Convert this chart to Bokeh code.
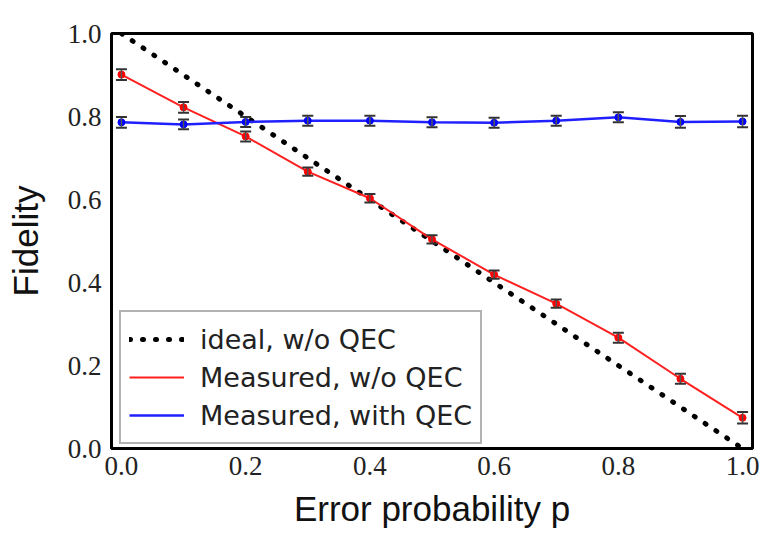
from bokeh.plotting import figure
from bokeh.models import (ColumnDataSource, Whisker, TeeHead, Legend, LegendItem,
                          FixedTicker, Range1d)
from bokeh.embed import file_html
from bokeh.resources import INLINE

# ---- data ----
p_err = [0.0, 0.1, 0.2, 0.3, 0.4, 0.5, 0.6, 0.7, 0.8, 0.9, 1.0]
fid_noqec = [0.901, 0.822, 0.752, 0.667, 0.603, 0.504, 0.419, 0.349, 0.267, 0.168, 0.074]
err_noqec = [0.013, 0.013, 0.012, 0.010, 0.010, 0.010, 0.010, 0.010, 0.012, 0.012, 0.014]
fid_qec = [0.786, 0.781, 0.787, 0.790, 0.790, 0.786, 0.785, 0.790, 0.798, 0.787, 0.788]
err_qec = [0.013, 0.012, 0.012, 0.012, 0.012, 0.012, 0.012, 0.012, 0.012, 0.014, 0.014]
ideal_x = [0.0, 1.0]
ideal_y = [1.0, 0.0]
ticks = [0.0, 0.2, 0.4, 0.6, 0.8, 1.0]

label_noqec_ideal = "ideal, w/o QEC"
label_noqec = "Measured, w/o QEC"
label_qec = "Measured, with QEC"

src_r = ColumnDataSource(dict(x=p_err, y=fid_noqec,
                              lo=[a - b for a, b in zip(fid_noqec, err_noqec)],
                              hi=[a + b for a, b in zip(fid_noqec, err_noqec)]))
src_b = ColumnDataSource(dict(x=p_err, y=fid_qec,
                              lo=[a - b for a, b in zip(fid_qec, err_qec)],
                              hi=[a + b for a, b in zip(fid_qec, err_qec)]))

p = figure(frame_width=641, frame_height=415, output_backend="svg", toolbar_location=None,
           x_range=Range1d(-0.016, 1.016), y_range=Range1d(0.0, 1.0),
           min_border_left=111, min_border_right=12, min_border_top=33,
           min_border_bottom=90)

p.background_fill_color = "white"
p.border_fill_color = "white"
p.xgrid.visible = False
p.ygrid.visible = False
p.outline_line_color = "black"
p.outline_line_width = 3

for ax in (p.xaxis[0], p.yaxis[0]):
    ax.ticker = FixedTicker(ticks=ticks)
    ax.axis_line_color = None
    ax.major_tick_line_color = None
    ax.minor_tick_line_color = None
    ax.major_tick_out = 0
    ax.major_tick_in = 0
    ax.major_label_text_font = "Liberation Serif"
    ax.major_label_text_font_size = "27px"
    ax.major_label_text_color = "#222222"
    ax.axis_label_text_font = "Liberation Sans"
    ax.axis_label_text_font_size = "35px"
    ax.axis_label_text_font_style = "normal"
    ax.axis_label_text_color = "#111111"

p.xaxis.major_label_overrides = {t: f"{t:.1f}" for t in ticks}
p.yaxis.major_label_overrides = {t: f"{t:.1f}" for t in ticks}
p.xaxis.axis_label = "Error probability p"
p.yaxis.axis_label = "Fidelity"
p.xaxis.major_label_standoff = 8
p.yaxis.major_label_standoff = 10
p.xaxis.axis_label_standoff = 11
p.yaxis.axis_label_standoff = 20

# ideal line
r_ideal = p.line(ideal_x, ideal_y, line_color="black", line_width=5,
                 line_dash="1 12", line_cap="round")

# measured lines
r_red = p.line("x", "y", source=src_r, line_color="#ff2020", line_width=2)
r_blue = p.line("x", "y", source=src_b, line_color="#2020ff", line_width=2.5)

for src in (src_r, src_b):
    w = Whisker(source=src, base="x", lower="lo", upper="hi", dimension="height",
                line_color="#555555", line_width=1.5,
                upper_head=TeeHead(size=11, line_color="#333333", line_width=2),
                lower_head=TeeHead(size=11, line_color="#333333", line_width=2))
    w.level = "glyph"
    p.add_layout(w)

p.scatter("x", "y", source=src_r, size=7, fill_color="#ff0000", line_color="#ff0000")
p.scatter("x", "y", source=src_b, size=7, fill_color="#0000ff", line_color="#0000ff")

legend = Legend(items=[LegendItem(label=label_noqec_ideal, renderers=[r_ideal]),
                       LegendItem(label=label_noqec, renderers=[r_red]),
                       LegendItem(label=label_qec, renderers=[r_blue])],
                location=(8, 4))
legend.label_text_font = "DejaVu Sans"
legend.label_text_font_size = "27px"
legend.label_text_color = "#222222"
legend.glyph_width = 55
legend.glyph_height = 38
legend.label_height = 38
legend.spacing = 0
legend.padding = 8
legend.margin = 0
legend.label_standoff = 16
legend.border_line_color = "#666666"
legend.border_line_width = 2
legend.background_fill_color = "white"
legend.background_fill_alpha = 1.0
p.add_layout(legend)

open("out.html", "w").write(file_html(p, INLINE))
